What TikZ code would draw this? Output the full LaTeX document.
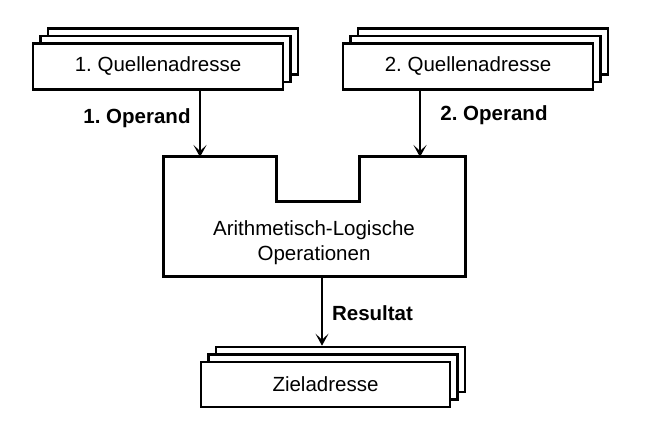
\documentclass[tikz,border=0pt]{standalone}
\usepackage{fontspec}
\setmainfont{Liberation Sans}
\usetikzlibrary{arrows.meta}
\frenchspacing
\begin{document}
\begin{tikzpicture}[x=1bp,y=-1bp,
  txt/.style={font=\fontsize{20.5bp}{25bp}\selectfont},
  lbl/.style={font=\fontsize{20.5bp}{25bp}\selectfont\bfseries},
  stackbox/.style={draw=black,line width=2.6bp,fill=white,inner sep=0pt,
    minimum width=250bp,minimum height=46bp,txt},
  arr/.style={line width=1.5bp,-{Stealth[length=12bp,width=13bp,inset=6bp]}},
  alubox/.style={draw=black,line width=3bp,line join=miter}]
\useasboundingbox (0,0) rectangle (655,437);
% source 1
\node[stackbox] (q1c) at (173,51.5) {};
\node[stackbox] (q1b) at (165.5,59) {};
\node[stackbox] (q1) at (158,66.5) {1. Quellenadresse};
% source 2
\node[stackbox] (q2c) at (483,51.5) {};
\node[stackbox] (q2b) at (475.5,59) {};
\node[stackbox] (q2) at (468,66.5) {2. Quellenadresse};
% target
\node[stackbox,minimum width=249bp,minimum height=45bp] (zc) at (340.5,369.5) {};
\node[stackbox,minimum width=249bp,minimum height=45bp] (zb) at (333,377) {};
\node[stackbox,minimum width=249bp,minimum height=45bp] (z) at (325.5,384.5) {Zieladresse};
% ALU
\coordinate (a1) at (163,157);
\coordinate (a2) at (276,157);
\coordinate (a3) at (276,202);
\coordinate (a4) at (359,202);
\coordinate (a5) at (359,157);
\coordinate (a6) at (465,157);
\coordinate (a7) at (465,277);
\coordinate (a8) at (163,277);
\draw[alubox] (a1) -- (a2) -- (a3) -- (a4) -- (a5) -- (a6) -- (a7) -- (a8) -- cycle;
\node[txt,align=center] (alu) at (314,242.5) {Arithmetisch-Logische\\Operationen};
% arrows
\coordinate (in1) at (200,157);
\coordinate (in2) at (420,157);
\coordinate (out) at (322,277);
\draw[arr] (q1.south -| in1) -- (in1);
\draw[arr] (q2.south -| in2) -- (in2);
\draw[arr] (out) -- (out |- zc.north);
% labels
\node[lbl] (l1) at (137,118) {1. Operand};
\node[lbl] (l2) at (494,115) {2. Operand};
\node[lbl] (l3) at (372.5,313) {Resultat};
\end{tikzpicture}
\end{document}
